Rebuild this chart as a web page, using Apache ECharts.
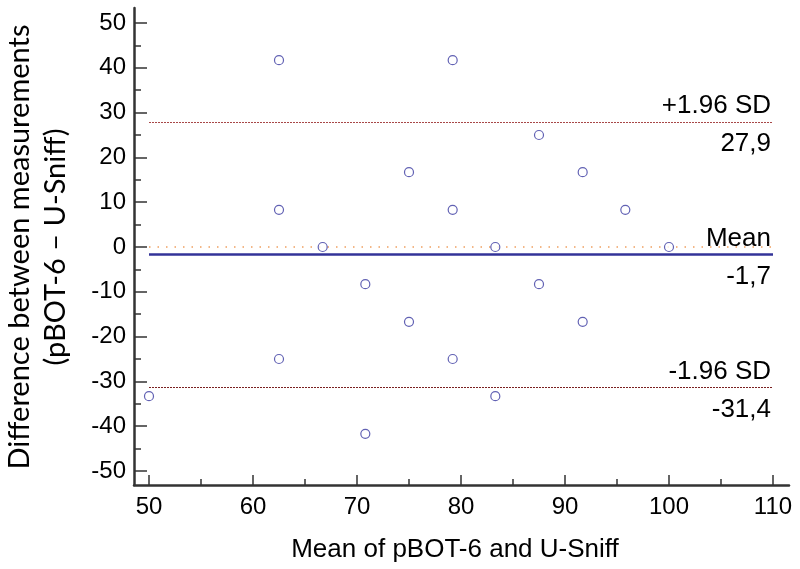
<!DOCTYPE html>
<html>
<head>
    <meta charset="utf-8">
    <title>Bland-Altman pBOT-6 vs U-Sniff</title>
    <script src="https://cdn.jsdelivr.net/npm/echarts@6/dist/echarts.min.js"></script>
    <style>
        html, body { margin: 0; padding: 0; background: #fff; }
        #chart { width: 800px; height: 569px; }
    </style>
</head>
<body>
    <div id="chart"></div>
    <script>
        // mean of the two methods (x) and their difference (y)
        const meanVals = [62.5, 79.2, 87.5, 75, 91.7, 62.5, 79.2, 95.8, 66.7, 83.3,
                          100, 70.8, 87.5, 75, 91.7, 62.5, 79.2, 50, 83.3, 70.8];
        const diffVals = [41.7, 41.7, 25, 16.7, 16.7, 8.3, 8.3, 8.3, 0, 0,
                          0, -8.3, -8.3, -16.7, -16.7, -25, -25, -33.3, -33.3, -41.7];

        // reference lines
        const meanDiff = -1.7;
        const upperLimit = 27.9;
        const lowerLimit = -31.4;
        const upperName = '+1.96 SD';
        const lowerName = '-1.96 SD';
        const meanName = 'Mean';

        const fmt = v => String(v).replace('.', ',');

        const points = meanVals.map((x, i) => [x, diffVals[i]]);

        const labelFont = { fontFamily: 'Liberation Sans', fontSize: 26, color: '#000' };
        const axisColor = '#333';

        function refLine(y, color, type, width, topText, bottomText) {
            return [
                {
                    yAxis: y,
                    lineStyle: { color: color, type: type, width: width },
                    label: Object.assign({ show: true, position: 'insideEndTop', formatter: topText, distance: [2, 3] }, labelFont)
                },
                {
                    yAxis: y,
                    lineStyle: { color: 'rgba(0,0,0,0)', width: 1 },
                    label: Object.assign({ show: true, position: 'insideEndBottom', formatter: bottomText, distance: [2, 9] }, labelFont)
                }
            ];
        }

        const chart = echarts.init(document.getElementById('chart'));

        chart.setOption({
            animation: false,
            grid: [
                { left: 149, right: 27, top: 23, bottom: 98, outerBoundsMode: 'none' },
                // outer frame: just carries the two long axis lines
                { left: 134, right: 11, top: 8, bottom: 84, outerBoundsMode: 'none' }
            ],
            xAxis: [
                {
                    type: 'value',
                    gridIndex: 0,
                    min: 50,
                    max: 110,
                    interval: 10,
                    offset: 14,
                    name: 'Mean of pBOT-6 and U-Sniff',
                    nameLocation: 'middle',
                    nameGap: 52,
                    nameTextStyle: { fontFamily: 'Liberation Sans', fontSize: 26, color: '#000', padding: [0, 12, 0, 0] },
                    axisLine: { show: false, onZero: false },
                    axisTick: { show: true, inside: true, length: 10, lineStyle: { color: axisColor, width: 1.5 } },
                    minorTick: { show: true, splitNumber: 2, length: 6, lineStyle: { color: axisColor, width: 1.5 } },
                    axisLabel: { margin: 10, fontFamily: 'Liberation Sans', fontSize: 24, color: '#000' },
                    splitLine: { show: false }
                },
                {
                    type: 'value',
                    gridIndex: 1,
                    min: 0,
                    max: 1,
                    axisLine: { show: true, onZero: false, lineStyle: { color: axisColor, width: 2.5 } },
                    axisTick: { show: false },
                    axisLabel: { show: false },
                    splitLine: { show: false }
                }
            ],
            yAxis: [
                {
                    type: 'value',
                    gridIndex: 0,
                    min: -50,
                    max: 50,
                    interval: 10,
                    offset: 15,
                    name: 'Difference between measurements\n(pBOT-6 – U-Sniff)',
                    nameLocation: 'middle',
                    nameGap: 60,
                    nameRotate: 90,
                    nameTextStyle: { fontFamily: 'Lato', fontSize: 29, lineHeight: 36, color: '#000', align: 'center' },
                    axisLine: { show: false, onZero: false },
                    axisTick: { show: true, inside: true, length: 13, lineStyle: { color: axisColor, width: 1.5 } },
                    minorTick: { show: true, splitNumber: 2, length: 7, lineStyle: { color: axisColor, width: 1.5 } },
                    axisLabel: { margin: 8, fontFamily: 'Liberation Sans', fontSize: 24, color: '#000' },
                    splitLine: { show: false }
                },
                {
                    type: 'value',
                    gridIndex: 1,
                    min: 0,
                    max: 1,
                    axisLine: { show: true, onZero: false, lineStyle: { color: axisColor, width: 2.5 } },
                    axisTick: { show: false },
                    axisLabel: { show: false },
                    splitLine: { show: false }
                }
            ],
            series: [
                {
                    type: 'scatter',
                    xAxisIndex: 0,
                    yAxisIndex: 0,
                    data: points,
                    symbol: 'circle',
                    symbolSize: 9,
                    itemStyle: { color: '#fff', borderColor: '#3a3aa0', borderWidth: 1.2 },
                    z: 5,
                    markLine: {
                        silent: true,
                        symbol: 'none',
                        data: [
                            {
                                yAxis: 0,
                                lineStyle: { color: '#f0a060', type: [1.5, 7], width: 1.5 },
                                label: { show: false }
                            },
                            ...refLine(upperLimit, '#a84848', [2, 1], 1, upperName, fmt(upperLimit)),
                            ...refLine(meanDiff, '#333399', 'solid', 2.5, meanName, fmt(meanDiff)),
                            ...refLine(lowerLimit, '#7a2020', [2, 1], 1, lowerName, fmt(lowerLimit))
                        ]
                    }
                }
            ]
        });
    </script>
</body>
</html>
